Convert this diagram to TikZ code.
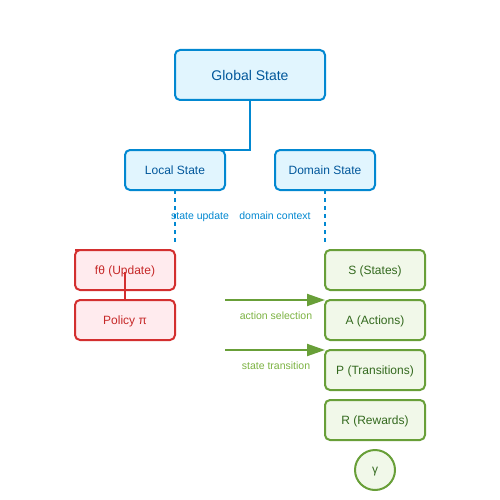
\documentclass[tikz,border=0pt]{standalone}
\usepackage{fontspec}
\setmainfont{Liberation Sans}
\usetikzlibrary{arrows.meta}
\definecolor{bstroke}{HTML}{0288D1}
\definecolor{bfill}{HTML}{E1F5FE}
\definecolor{btext}{HTML}{01579B}
\definecolor{rstroke}{HTML}{D32F2F}
\definecolor{rfill}{HTML}{FFEBEE}
\definecolor{rtext}{HTML}{C62828}
\definecolor{gstroke}{HTML}{689F38}
\definecolor{gfill}{HTML}{F1F8E9}
\definecolor{gtext}{HTML}{33691E}
\definecolor{glabel}{HTML}{7CB342}
\begin{document}
\begin{tikzpicture}[x=1pt,y=-1pt,
  box/.style={draw, line width=2pt, rounded corners=5pt, minimum width=100pt, minimum height=40pt, inner sep=0pt, outer sep=0pt, anchor=north west, text height=9pt, text depth=0pt, font=\fontsize{12}{14}\selectfont},
  bluebox/.style={box, draw=bstroke, fill=bfill, text=btext},
  redbox/.style={box, draw=rstroke, fill=rfill, text=rtext},
  greenbox/.style={box, draw=gstroke, fill=gfill, text=gtext},
  blabel/.style={text=bstroke, font=\fontsize{10.5}{12}\selectfont, inner sep=0pt, text height=7.5pt, text depth=0pt},
  glab/.style={text=glabel, font=\fontsize{10.5}{12}\selectfont, inner sep=0pt, text height=7.5pt, text depth=0pt},
  bline/.style={draw=bstroke, line width=2pt},
  bdash/.style={draw=bstroke, line width=2pt, dash pattern=on 4pt off 4pt},
  garrow/.style={draw=gstroke, line width=2pt, -{Triangle[length=18pt,width=12pt]}},
]
\useasboundingbox (0,0) rectangle (500,500);
\fill[white] (0,0) rectangle (500,500);
% top
\node[bluebox, minimum width=150pt, minimum height=50pt, text height=10.5pt, font=\fontsize{14}{16}\selectfont] (global) at (175,50) {Global State};
\coordinate (junc) at (250,150);
\draw[bline] (global.south) -- (junc) -- (175,150);
\node[bluebox] (local) at (125,150) {Local State};
\node[bluebox] (domain) at (275,150) {Domain State};
% dashed
\coordinate (ldash) at (175,245);
\coordinate (ddash) at (325,245);
\draw[bdash] (local.south) -- (ldash);
\draw[bdash] (domain.south) -- (ddash);
\node[blabel] (lsu) at (200,216) {state update};
\node[blabel] (ldc) at (275,216) {domain context};
% red
\draw[draw=rstroke, line width=2pt] (75,250) -- (90,250);
\node[redbox] (update) at (75,250) {fθ (Update)};
\node[redbox] (policy) at (75,300) {Policy π};
\coordinate (ustart) at (125,272);
\draw[draw=rstroke, line width=2pt] (ustart) -- (policy.north);
% green
\node[greenbox] (S) at (325,250) {S (States)};
\node[greenbox] (A) at (325,300) {A (Actions)};
\node[greenbox] (P) at (325,350) {P (Transitions)};
\node[greenbox] (R) at (325,400) {R (Rewards)};
\node[draw=gstroke, fill=gfill, text=gtext, line width=2pt, circle, minimum size=40pt, inner sep=0pt, outer sep=0pt, text height=6pt, text depth=0pt, font=\fontsize{12}{14}\selectfont] (gamma) at (375,470) {γ};
\coordinate (a1) at (225,300);
\coordinate (a2) at (225,350);
\draw[garrow] (a1) -- (A.north west);
\draw[garrow] (a2) -- (P.north west);
\node[glab] (las) at (276,316) {action selection};
\node[glab] (lst) at (276,366) {state transition};
\end{tikzpicture}
\end{document}
